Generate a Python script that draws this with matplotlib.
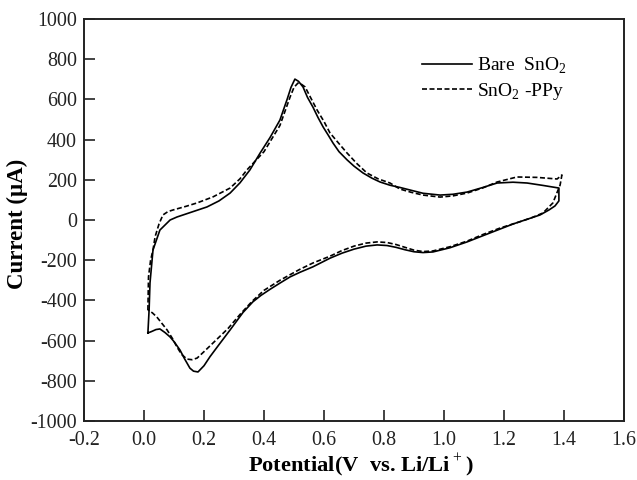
import matplotlib
matplotlib.use("Agg")
import matplotlib.pyplot as plt
from matplotlib.ticker import FormatStrFormatter

plt.rcParams['font.family'] = ['Liberation Serif', 'DejaVu Serif']
plt.rcParams['mathtext.fontset'] = 'custom'
plt.rcParams['mathtext.rm'] = 'Liberation Serif'
plt.rcParams['mathtext.bf'] = 'Liberation Serif:bold'
plt.rcParams['axes.unicode_minus'] = False

# Bare SnO2 (closed CV loop): potential (V), current (uA)
bare_v = [0.013, 0.017, 0.020, 0.030, 0.053, 0.087, 0.110, 0.130, 0.170, 0.210, 0.250,
          0.287, 0.320, 0.353, 0.387, 0.420, 0.453, 0.477, 0.490, 0.503, 0.515, 0.530,
          0.545, 0.563, 0.580, 0.597, 0.615, 0.630, 0.650, 0.677, 0.700, 0.730, 0.760,
          0.787, 0.820, 0.853, 0.890, 0.930, 0.987, 1.030, 1.077, 1.130, 1.177, 1.230,
          1.277, 1.330, 1.383,
          1.383, 1.370, 1.350, 1.320, 1.280, 1.230, 1.187, 1.130, 1.077, 1.020, 0.963,
          0.930, 0.900, 0.870, 0.840, 0.810, 0.777, 0.740, 0.700, 0.660, 0.620, 0.563,
          0.520, 0.487, 0.453, 0.420, 0.390, 0.363, 0.330, 0.287, 0.250, 0.220, 0.200,
          0.180, 0.165, 0.153, 0.135, 0.120, 0.100, 0.087, 0.070, 0.053, 0.040, 0.025,
          0.013]
bare_i = [-562, -448, -313, -149, -50, 0, 15, 25, 45, 65, 95,
          134, 185, 249, 333, 410, 497, 600, 660, 701, 690, 662,
          610, 562, 510, 463, 420, 383, 340, 299, 268, 234, 208,
          189, 173, 162, 148, 133, 124, 128, 139, 162, 184, 188,
          184, 172, 159,
          95, 70, 50, 25, 5, -20, -45, -78, -109, -138, -159,
          -162, -158, -148, -136, -127, -124, -130, -145, -165, -190, -233,
          -260, -283, -314, -345, -375, -407, -460, -547, -620, -680, -725,
          -756, -752, -737, -690, -647, -605, -582, -560, -542, -545, -555,
          -562]

# SnO2-PPy (closed CV loop)
ppy_v = [0.013, 0.015, 0.022, 0.030, 0.037, 0.050, 0.063, 0.080, 0.097, 0.140, 0.177,
         0.230, 0.287, 0.320, 0.343, 0.400, 0.453, 0.487, 0.500, 0.513, 0.525, 0.537,
         0.555, 0.577, 0.600, 0.620, 0.650, 0.677, 0.710, 0.743, 0.780, 0.820,
         0.853, 0.890, 0.930, 0.987, 1.030, 1.077, 1.130, 1.177, 1.243, 1.310, 1.377,
         1.393,
         1.387, 1.375, 1.363, 1.330, 1.290, 1.250, 1.187, 1.130, 1.077, 1.020, 0.963,
         0.930, 0.900, 0.870, 0.840, 0.810, 0.777, 0.740, 0.700, 0.660, 0.620, 0.563,
         0.520, 0.487, 0.453, 0.400, 0.360, 0.320, 0.280, 0.230, 0.200, 0.177, 0.160,
         0.143, 0.125, 0.110, 0.095, 0.077, 0.060, 0.043, 0.028, 0.013]
ppy_i = [-448, -283, -200, -149, -83, -20, 25, 42, 50, 68, 85,
         115, 159, 205, 249, 340, 470, 612, 660, 681, 675, 662,
         610, 547, 490, 433, 380, 333, 280, 234, 205, 184,
         154, 138, 124, 114, 120, 134, 160, 189, 214, 212, 204,
         224,
         174, 130, 85, 35, 10, -10, -40, -72, -105, -133, -154,
         -157, -150, -136, -122, -112, -109, -115, -130, -152, -180, -214,
         -245, -272, -300, -350, -405, -470, -540, -612, -655, -687, -695,
         -692, -668, -632, -590, -547, -515, -483, -462, -448]

xticks = [-0.2, 0.0, 0.2, 0.4, 0.6, 0.8, 1.0, 1.2, 1.4, 1.6]
yticks = [-1000, -800, -600, -400, -200, 0, 200, 400, 600, 800, 1000]

fig = plt.figure(figsize=(6.37, 4.8), dpi=100)
ax = fig.add_axes([84/637, 1 - 421/480, 540/637, 402/480])

ax.plot(bare_v, bare_i, color='black', lw=1.2, ls='-', label='Bare  SnO$_2$')
ax.plot(ppy_v, ppy_i, color='black', lw=1.2, ls=(0, (3, 1.5)), label='SnO$_2$ -PPy')

ax.set_xlim(-0.2, 1.6)
ax.set_ylim(-1000, 1000)
ax.set_xticks(xticks)
ax.set_yticks(yticks)
ax.xaxis.set_major_formatter(FormatStrFormatter('%.1f'))
ax.tick_params(direction='in', length=8, width=1.2, labelsize=14.4,
               top=False, right=False, colors='#222222')
ax.tick_params(axis='x', pad=7)
ax.tick_params(axis='y', pad=5)
for s in ax.spines.values():
    s.set_linewidth(1.4)
    s.set_color('#222222')

ax.set_xlabel('Potential(V  vs. Li/Li$^+$)', fontsize=16.2, fontweight='bold')
ax.set_ylabel('Current (µA)', fontsize=16.5, fontweight='bold')
ax.xaxis.set_label_coords(0.513, -0.076)
ax.yaxis.set_label_coords(-0.104, 0.49)

ax.legend(loc='upper left', bbox_to_anchor=(0.593, 0.953), frameon=False,
          fontsize=14, handlelength=2.6, handletextpad=0.25, labelspacing=0.25)

fig.savefig('out.png', dpi=100)
